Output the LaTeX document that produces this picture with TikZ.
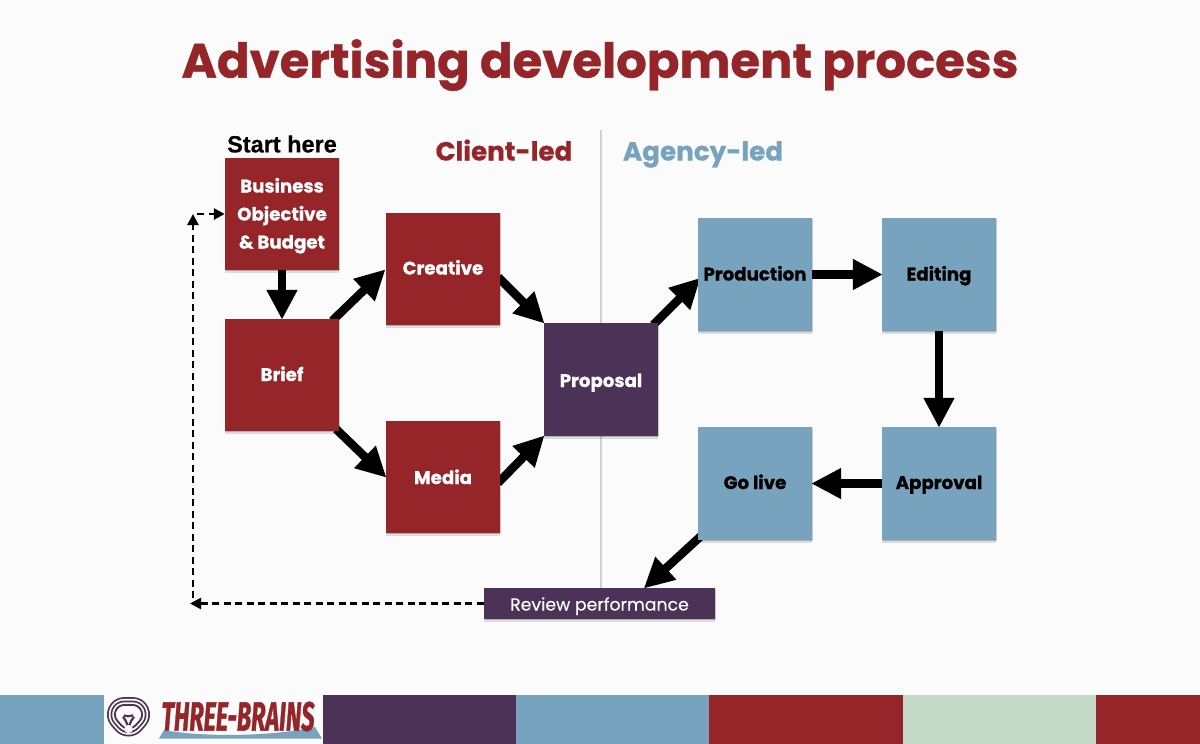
\documentclass[tikz,border=0pt]{standalone}
\usepackage{fontspec}
\usepackage{graphicx}
\setmainfont{Poppins}[BoldFeatures={FakeBold=0.7}]
\newfontfamily\reviewfont{Poppins}[FakeBold=0.25]
\newfontfamily\heros{Liberation Sans}[BoldFeatures={FakeBold=0.4}]
\newfontfamily\firafont{Fira Sans}[BoldItalicFeatures={FakeBold=1.4}]
\usetikzlibrary{arrows.meta,shadows,calc}
\definecolor{tbred}{HTML}{952528}
\definecolor{tbpurple}{HTML}{4D3257}
\definecolor{tbblue}{HTML}{77A3BE}
\definecolor{tbgreen}{HTML}{C3D8C6}
\definecolor{tbbg}{HTML}{FBFBFC}
\pgfdeclarelayer{under}
\pgfsetlayers{under,main}
\tikzset{
  x=1pt,y=-1pt,
  boxshadow/.style={
    drop shadow={shadow xshift=0pt,shadow yshift=-2.5pt,opacity=.12,fill=black},
    drop shadow={shadow xshift=0.6pt,shadow yshift=-1.2pt,opacity=.20,fill=black}},
  procbox/.style={minimum width=114pt,minimum height=113pt,inner sep=0pt,align=center,boxshadow,
    text height=14pt,text depth=2pt,
    font=\fontsize{18.2}{28}\selectfont\bfseries},
  redbox/.style={procbox,fill=tbred,text=white},
  purplebox/.style={procbox,fill=tbpurple,text=white},
  bluebox/.style={procbox,fill=tbblue,text=black},
  bigarrow/.style={line width=8.5pt,-{Triangle[length=30pt,width=29pt]},black,shorten >=-1pt},
  dasharrow/.style={line width=2.6pt,dash pattern=on 7pt off 4.5pt,-{Triangle[length=11pt,width=11pt]},black},
  band/.style={inner sep=0pt,minimum height=49pt,anchor=north west},
  headtext/.style={inner sep=0pt,text height=20pt,text depth=6pt,font=\fontsize{26.2}{32}\selectfont\bfseries},
}
\begin{document}
\begin{tikzpicture}
\begin{pgfonlayer}{under}
\fill[tbbg] (0,0) rectangle (1200,744);
\end{pgfonlayer}
\useasboundingbox (0,0) rectangle (1200,744);
% title
\node[text=tbred,inner sep=0pt,font=\fontsize{48.1}{56}\selectfont\bfseries] (title) at (600,65) {Advertising development process};
% divider
\coordinate (divtop) at (601,130);
\coordinate (divbot) at (601,588);
\begin{pgfonlayer}{under}
\draw[line width=1.5pt,color=black!18] (divtop) -- (divbot);
\end{pgfonlayer}
% headers
\node[headtext,text=tbred] (client) at (504,153.5) {Client-led};
\node[headtext,text=tbblue] (agency) at (703,153.5) {Agency-led};
\node[text=black,inner sep=0pt,font=\fontsize{23.5}{28}\selectfont\heros\bfseries] (start) at (282,144) {Start here};
% boxes
\node[redbox,minimum height=112pt,text height=70pt,text depth=1pt] (business) at (282,214) {Business\\Objective\\\&{} Budget};
\node[redbox,minimum height=112pt] (brief) at (282,375) {Brief};
\node[redbox,minimum height=112pt,text height=13pt] (creative) at (443,269) {Creative};
\node[redbox,minimum height=112pt,text height=16pt] (media) at (443,477) {Media};
\node[purplebox,text height=17pt] (proposal) at (601,379.5) {Proposal};
\node[bluebox] (production) at (755,274.5) {Production};
\node[bluebox] (editing) at (939,274.5) {Editing};
\node[bluebox,text height=13pt] (approval) at (939,483.5) {Approval};
\node[bluebox,text height=13pt] (golive) at (755,483.5) {Go live};
\node[fill=tbpurple,text=white,minimum width=231pt,minimum height=31pt,inner sep=0pt,boxshadow,
  text height=15pt,text depth=1pt,font=\fontsize{17.3}{20}\selectfont\reviewfont] (review) at (599.5,603.5) {Review performance};
% connectors
\begin{pgfonlayer}{under}
\draw[bigarrow] (business.south) -- (brief.north);
\draw[bigarrow] ($(brief.north east)+(-7,2)$) -- ($(creative.west)+(-1,1)$);
\draw[bigarrow] ($(brief.south east)+(-3,-2)$) -- (media.west);
\draw[bigarrow] ($(creative.south east)+(-2,-48)$) -- (proposal.north west);
\draw[bigarrow] ($(media.north east)+(-2,62)$) -- (proposal.south west);
\draw[bigarrow] ($(proposal.north east)+(-5,2)$) -- ($(production.west)+(2,4)$);
\draw[bigarrow] (production.east) -- (editing.west);
\draw[bigarrow] (editing.south) -- (approval.north);
\draw[bigarrow] (approval.west) -- (golive.east);
\draw[bigarrow] ($(golive.south west)+(3,-4)$) -- ($(review.north)+(45,0)$);
\coordinate (corner) at (190,603.5);
\coordinate (upper) at (193,214);
\draw[dasharrow] (review.west) -- (corner);
\draw[dasharrow] (193,598) -- (upper);
\draw[dasharrow] ($(upper)+(4,0)$) -- (business.west);
\end{pgfonlayer}
% footer band
\node[band,fill=tbblue,minimum width=104pt] (b1) at (0,695) {};
\node[band,fill=tbpurple,minimum width=193pt] (b2) at (323,695) {};
\node[band,fill=tbblue,minimum width=193pt] (b3) at (516,695) {};
\node[band,fill=tbred,minimum width=194pt] (b4) at (709,695) {};
\node[band,fill=tbgreen,minimum width=193pt] (b5) at (903,695) {};
\node[band,fill=tbred,minimum width=104pt] (b6) at (1096,695) {};
% logo mark: nested rounded triangles
\foreach \w/\c in {35/tbpurple,31.5/tbbg,28/tbpurple,24.5/tbbg,21/tbpurple,17/tbbg}{
  \draw[\c,line width=\w pt,line join=round] (124.5,714.5) -- (132.5,714.5) -- (128.5,719) -- cycle;
}
\draw[tbpurple,line width=2.2pt,line join=round] (120,714) .. controls (128,717) .. (137,714) .. controls (131,720) .. (128.5,729) .. controls (126,720) .. (120,714);
\fill[tbbg] (120,714) circle (4.2pt) (137,714) circle (4.2pt) (128.5,729) circle (4.2pt);
% logo wordmark
\fill[tbblue] (159,738.5) -- (164,730) .. controls (200,737) and (270,737) .. (315,727) -- (322,738.5) -- cycle;
\node[text=tbred,inner sep=0pt] (logotext) at (238,716.5) {\resizebox{153pt}{29pt}{\firafont\bfseries\itshape THREE-BRAINS}};
\end{tikzpicture}
\end{document}
